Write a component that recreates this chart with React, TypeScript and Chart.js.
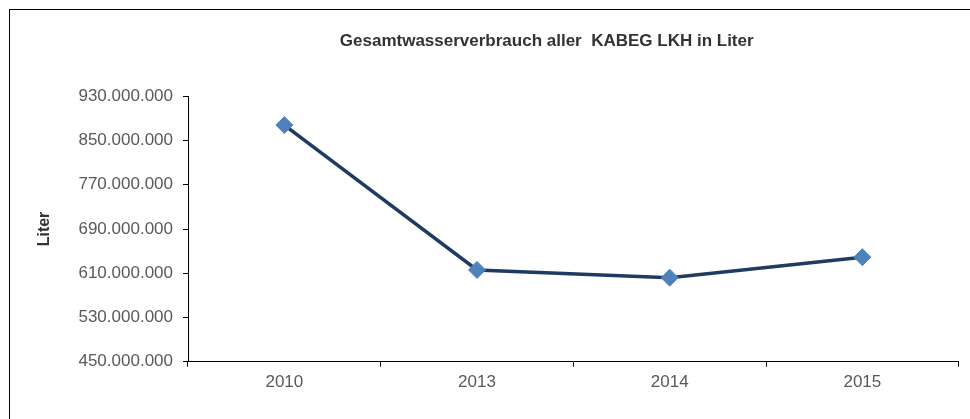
import React, { useEffect, useRef } from "react";
import { Chart, registerables } from "chart.js";

Chart.register(...registerables);

const categories = ["2010", "2013", "2014", "2015"];
const waterUse = [878000000, 616000000, 602000000, 639000000];
const yMin = 450000000;
const yMax = 930000000;
const yStep = 80000000;
const chartTitle = "Gesamtwasserverbrauch aller  KABEG LKH in Liter";
const yTitle = "Liter";

const fmt = (v: number) =>
  Math.round(v)
    .toString()
    .replace(/\B(?=(\d{3})+(?!\d))/g, ".");

// Title box spans from the value-label column start to the plot's right edge
const titleBoxPlugin = {
  id: "titleBox",
  afterLayout(chart: any) {
    const t = chart.titleBlock;
    if (!t) return;
    const left = chart.chartArea.left - 53.3;
    const right = chart.chartArea.right;
    t.left = left;
    t.right = right;
    t.width = right - left;
  },
};

export default function App() {
  const ref = useRef<HTMLCanvasElement | null>(null);

  useEffect(() => {
    if (!ref.current) return;
    const chart = new Chart(ref.current, {
      type: "line",
      data: {
        labels: categories,
        datasets: [
          {
            data: waterUse,
            borderColor: "#1F3A63",
            borderWidth: 3.5,
            pointStyle: "rectRot",
            pointRadius: 8.5,
            pointBackgroundColor: "#4F81BD",
            pointBorderColor: "#4F81BD",
            pointBorderWidth: 1,
            tension: 0,
          },
        ],
      },
      options: {
        responsive: false,
        animation: false,
        layout: { padding: { left: 9, right: 11.3, top: 0, bottom: 0 } },
        plugins: {
          legend: { display: false },
          tooltip: { enabled: false },
          title: {
            display: true,
            text: chartTitle,
            color: "#333333",
            font: { family: "Liberation Sans, Arial", size: 17, weight: "bold" },
            padding: { top: 31.5, bottom: 44.4 },
          },
        },
        scales: {
          x: {
            type: "category",
            offset: true,
            grid: {
              display: true,
              offset: true,
              drawOnChartArea: false,
              drawTicks: true,
              tickLength: 5,
              tickColor: "#000",
            },
            border: { display: true, color: "#000", width: 1 },
            ticks: {
              color: "#595959",
              padding: 5,
              font: { family: "Liberation Sans, Arial", size: 17 },
            },
            afterFit: (s: any) => {
              s.height = 57.3;
            },
          },
          y: {
            min: yMin,
            max: yMax,
            grid: {
              display: true,
              drawOnChartArea: false,
              drawTicks: true,
              tickLength: 5,
              tickColor: "#000",
            },
            border: { display: true, color: "#000", width: 1 },
            ticks: {
              stepSize: yStep,
              color: "#595959",
              padding: 10,
              font: { family: "Liberation Sans, Arial", size: 17 },
              callback: (v: any) => fmt(Number(v)),
            },
            title: {
              display: true,
              text: yTitle,
              color: "#333333",
              font: { family: "Liberation Sans, Arial", size: 16, weight: "bold" },
              padding: { top: 26.4, bottom: 0 },
            },
            afterFit: (s: any) => {
              s.width = 179;
            },
          },
        },
      },
      plugins: [titleBoxPlugin],
    });
    return () => chart.destroy();
  }, []);

  return (
    <div
      style={{
        position: "fixed",
        left: 0,
        top: 0,
        width: 970,
        height: 419,
        overflow: "hidden",
        background: "#fff",
      }}
    >
      <div
        style={{
          position: "absolute",
          left: 9,
          top: 9,
          width: 1000,
          height: 500,
          border: "1px solid #000",
          boxSizing: "border-box",
        }}
      />
      <canvas
        ref={ref}
        width={970}
        height={419}
        style={{ position: "absolute", left: 0, top: 0, width: 970, height: 419 }}
      />
    </div>
  );
}
